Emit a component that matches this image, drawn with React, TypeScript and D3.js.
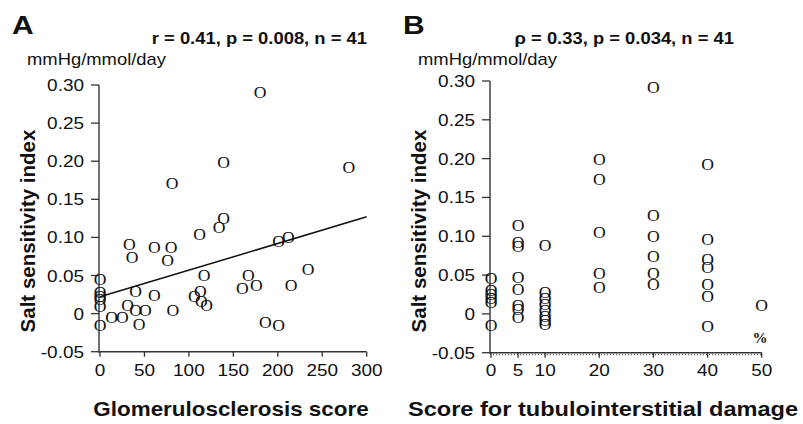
import React from "react";
import * as d3 from "d3";

// Panel A: glomerulosclerosis score vs salt sensitivity index
const gsX = [0, 0, 0, 0, 0, 0, 13, 25, 33, 36, 31, 40, 40, 44, 51, 61, 61, 76, 80, 82, 112, 106, 113, 114, 117, 120, 134, 139, 160, 167, 176, 186, 201, 201, 212, 215, 234, 180, 139, 280, 81];
const gsY = [0.044, 0.027, 0.022, 0.018, 0.009, -0.016, -0.006, -0.005, 0.09, 0.073, 0.011, 0.029, 0.004, -0.015, 0.004, 0.086, 0.024, 0.069, 0.086, 0.004, 0.103, 0.022, 0.029, 0.016, 0.05, 0.01, 0.113, 0.125, 0.033, 0.05, 0.036, -0.012, 0.095, -0.016, 0.1, 0.036, 0.058, 0.29, 0.198, 0.192, 0.171];
const fitX = [0, 300];
const fitY = [0.022, 0.127];

// Panel B: tubulointerstitial damage score vs salt sensitivity index
const tiX = [0, 0, 0, 0, 0, 0, 5, 5, 5, 5, 5, 5, 5, 5, 10, 10, 10, 10, 10, 10, 10, 10, 20, 20, 20, 20, 20, 30, 30, 30, 30, 30, 30, 40, 40, 40, 40, 40, 40, 40, 50];
const tiY = [0.045, 0.03, 0.025, 0.02, 0.015, -0.015, 0.113, 0.092, 0.087, 0.046, 0.031, 0.01, 0.005, -0.005, 0.088, 0.027, 0.02, 0.012, 0.004, -0.003, -0.009, -0.014, 0.199, 0.173, 0.104, 0.052, 0.034, 0.292, 0.127, 0.1, 0.074, 0.052, 0.037, 0.192, 0.095, 0.07, 0.06, 0.037, 0.022, -0.016, 0.011];

const yTicks = [0.3, 0.25, 0.2, 0.15, 0.1, 0.05, 0, -0.05];
const yTickLabels = ["0.30", "0.25", "0.20", "0.15", "0.10", "0.05", "0", "-0.05"];
const gsTicks = [0, 50, 100, 150, 200, 250, 300];
const tiTicks = [0, 5, 10, 20, 30, 40, 50];

const SANS = "'Liberation Sans', Arial, sans-serif";
const SERIF = "'Liberation Serif', 'Times New Roman', serif";
const AX = "#333";

function T({ x, y, sx = 1.15, size, weight = "normal", anchor = "start", family = SANS, children, rotate = 0 }: any) {
  const tf = rotate
    ? `translate(${x},${y}) rotate(${rotate})`
    : `translate(${x},${y}) scale(${sx},1)`;
  return (
    <text transform={tf} fontSize={size} fontWeight={weight} textAnchor={anchor} fontFamily={family} fill="#111">
      {children}
    </text>
  );
}

function Panel({ xs, ys, xScale, yScale, xTicks, letter, letterX, stat, statRight, unitX, yTitleX, xTitle, xTitleCx, xTitleSize, dotted, fit }: any) {
  const x1 = xScale.range()[1];
  const yb = yScale(-0.05);
  const yt = yScale(0.3);
  const axX = xScale.range()[0] - 1;
  const line = d3.line<number>().x((d, i) => xScale(fit ? fit[0][i] : 0)).y((d) => yScale(d));
  return (
    <g>
      <T x={letterX} y={34} size={25} weight="bold" sx={1.2}>{letter}</T>
      <T x={statRight} y={43.5} size={16} weight="bold" anchor="end">{stat}</T>
      <T x={unitX} y={65} size={16}>mmHg/mmol/day</T>
      <T x={yTitleX} y={231} size={20.5} weight="bold" anchor="middle" rotate={-90}>Salt sensitivity index</T>
      <T x={xTitleCx} y={416} size={xTitleSize} weight="bold" anchor="middle">{xTitle}</T>
      {/* y axis */}
      <line x1={axX} x2={axX} y1={yt} y2={yb + 1} stroke={AX} strokeWidth={1.4} />
      {yTicks.map((t, i) => (
        <g key={i}>
          <line x1={axX - 8} x2={axX} y1={yScale(t)} y2={yScale(t)} stroke={AX} strokeWidth={1.3} />
          <T x={axX - 15} y={yScale(t) + 6} size={16.5} anchor="end">{yTickLabels[i]}</T>
        </g>
      ))}
      {/* x axis */}
      <line x1={axX} x2={x1} y1={yb} y2={yb} stroke={AX} strokeWidth={1.4} />
      {dotted && (
        <line x1={axX} x2={x1} y1={yb + 2} y2={yb + 2} stroke={AX} strokeWidth={1} strokeDasharray="1 2" />
      )}
      {xTicks.map((t: number) => (
        <g key={t}>
          <line x1={xScale(t)} x2={xScale(t)} y1={yb} y2={yb + 5} stroke={AX} strokeWidth={1.3} />
          <T x={xScale(t)} y={376} size={16.5} anchor="middle">{String(t)}</T>
        </g>
      ))}
      {fit && <path d={line(fit[1]) || ""} fill="none" stroke="#111" strokeWidth={1.5} />}
      {xs.map((v: number, i: number) => (
        <text key={i} transform={`translate(${xScale(v)},${yScale(ys[i]) + 5.3}) scale(1.1,1)`} fontSize={16} fontFamily={SERIF} textAnchor="middle" fill="#111">O</text>
      ))}
    </g>
  );
}

export default function App() {
  const xA = d3.scaleLinear().domain([0, 300]).range([100, 366.7]);
  const yA = d3.scaleLinear().domain([-0.05, 0.3]).range([351.7, 85]);
  const xB = d3.scaleLinear().domain([0, 50]).range([491, 761.7]);
  const yB = d3.scaleLinear().domain([-0.05, 0.3]).range([352.7, 81]);
  return (
    <svg width={803} height={424} style={{ position: "absolute", left: 0, top: 0, background: "#fff" }}>
      <rect width={803} height={424} fill="#fff" />
      <Panel xs={gsX} ys={gsY} xScale={xA} yScale={yA} xTicks={gsTicks} letter="A" letterX={12} stat="r = 0.41, p = 0.008, n = 41" statRight={367} unitX={27} yTitleX={35} xTitle="Glomerulosclerosis score" xTitleCx={231} xTitleSize={19.5} fit={[fitX, fitY]} />
      <Panel xs={tiX} ys={tiY} xScale={xB} yScale={yB} xTicks={tiTicks} letter="B" letterX={403} stat="ρ = 0.33, p = 0.034, n = 41" statRight={734} unitX={418} yTitleX={426} xTitle="Score for tubulointerstitial damage" xTitleCx={603} xTitleSize={20.5} dotted />
      <text x={760} y={343} fontSize={15} fontWeight="bold" fontFamily={SERIF} textAnchor="middle" fill="#111">%</text>
    </svg>
  );
}
